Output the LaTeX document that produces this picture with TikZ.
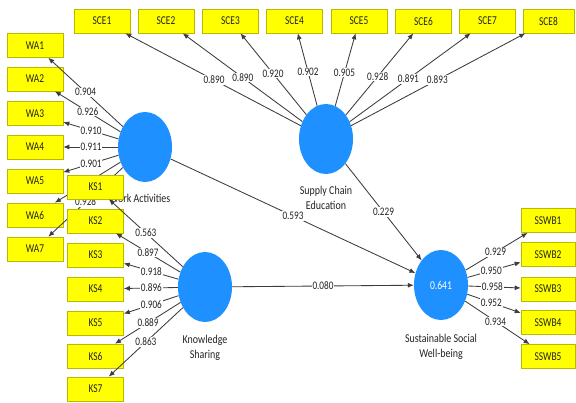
\documentclass[tikz,border=0pt]{standalone}
\usepackage{fontspec}
\newfontfamily\boxfont[FakeStretch=0.78]{Carlito}
\newfontfamily\valfont[FakeStretch=0.8]{Carlito}
\newfontfamily\labfont[FakeStretch=0.83]{Carlito}
\usetikzlibrary{shapes.geometric,arrows.meta,calc}
\definecolor{lvblue}{RGB}{30,144,255}
\definecolor{indyel}{RGB}{255,255,0}
\definecolor{inddraw}{RGB}{185,185,0}
\definecolor{lnkgray}{RGB}{60,60,60}
\definecolor{txtgray}{RGB}{35,35,35}
\begin{document}
\begin{tikzpicture}[x=1pt,y=-1pt,
 ind/.style={rectangle,fill=indyel,draw=inddraw,line width=0.6pt,minimum width=56pt,minimum height=24pt,inner sep=0pt,font=\boxfont\fontsize{12}{13}\selectfont,text=txtgray},
 lv/.style={ellipse,fill=lvblue,minimum width=54pt,minimum height=70pt,inner sep=0pt},
 lnk/.style={draw=lnkgray,line width=0.85pt,-{Latex[length=6pt,width=5pt]}},
 val/.style={fill=white,inner sep=0.8pt,font=\valfont\fontsize{11.5}{12}\selectfont,text=txtgray},
 lvlab/.style={align=center,font=\labfont\fontsize{12}{15}\selectfont,text=txtgray,inner sep=0pt}]
\useasboundingbox[fill=white] (0,0) rectangle (576,403);

% ---------- Work Activities ----------
\node[lv] (wa) at (145,147) {};
\node[lvlab] (wal) at (140,198) {Work Activities};
\foreach \n/\y in {1/45.5,2/79,3/113.5,4/147,5/181,6/215,7/249}
  \node[ind] (wa\n) at (35,\y) {WA\n};
\foreach \n in {1,...,7} \draw[lnk] (wa) -- (wa\n);
\foreach \n/\t/\v in {1/0.54/0.904,2/0.52/0.926,3/0.49/0.910,4/0.49/0.911,5/0.49/0.901,7/0.54/0.928}
  \node[val] at ($(wa)!\t!(wa\n)$) {\v};

% ---------- Supply Chain Education ----------
\node[lv] (sce) at (326,139) {};
\node[lvlab] (scel) at (326,198) {Supply Chain\\Education};
\foreach \n/\x in {1/102,2/166,3/230.5,4/294.5,5/359,6/423.5,7/487.5}
  \node[ind] (sce\n) at (\x,21) {SCE\n};
\node[ind,minimum width=51pt] (sce8) at (548.5,21) {SCE8};
\foreach \n in {1,...,8} \draw[lnk] (sce) -- (sce\n);
\foreach \n/\t/\v in {1/0.5/0.890,2/0.52/0.890,3/0.555/0.920,4/0.57/0.902,5/0.56/0.905,6/0.53/0.928,7/0.51/0.891,8/0.5/0.893}
  \node[val] at ($(sce)!\t!(sce\n)$) {\v};

% ---------- Sustainable Social Well-being ----------
\node[lv,text=white,font=\valfont\fontsize{12}{13}\selectfont] (ssw) at (441,285) {0.641};
\node[lvlab] (sswl) at (441,347) {Sustainable Social\\Well-being};
\foreach \n/\y in {1/220.5,2/254.5,3/289,4/322.5,5/356.5}
  \node[ind,minimum width=54pt] (ssw\n) at (548,\y) {SSWB\n};
\foreach \n in {1,...,5} \draw[lnk] (ssw) -- (ssw\n);
\foreach \n/\t/\v in {1/0.51/0.929,2/0.47/0.950,3/0.48/0.958,4/0.47/0.952,5/0.51/0.934}
  \node[val] at ($(ssw)!\t!(ssw\n)$) {\v};

% ---------- Knowledge Sharing ----------
\node[lv] (ks) at (205,287) {};
\node[lvlab] (ksl) at (205,348) {Knowledge\\Sharing};
\foreach \n/\y in {1/187,2/221,3/255,4/289,5/323,6/356,7/389}
  \node[ind] (ks\n) at (95.5,\y) {KS\n};
\foreach \n in {1,...,7} \draw[lnk] (ks) -- (ks\n);
\foreach \n/\t/\v in {1/0.54/0.563,2/0.52/0.897,3/0.49/0.918,4/0.49/0.896,5/0.49/0.906,6/0.52/0.889,7/0.54/0.863}
  \node[val] at ($(ks)!\t!(ks\n)$) {\v};

% ---------- structural paths ----------
\draw[lnk] (wa) -- (ssw);
\draw[lnk] (sce) -- (ssw);
\draw[lnk] (ks) -- (ssw);
\node[val] at ($(wa)!0.5!(ssw)$) {0.593};
\node[val] at ($(sce)!0.5!(ssw)$) {0.229};
\node[val] at ($(ks)!0.5!(ssw)$) {0.080};
\end{tikzpicture}
\end{document}
